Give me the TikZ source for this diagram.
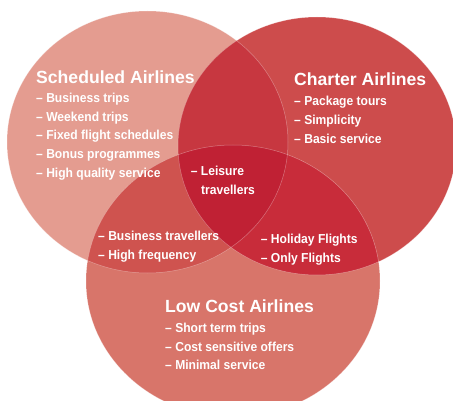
\documentclass[tikz,border=0pt]{standalone}
\usepackage{fontspec}
\setmainfont{Liberation Sans}
\newfontfamily\headfont{Liberation Sans}
\newfontfamily\itemfont{Liberation Sans}[FakeStretch=0.93]

% region colours
\definecolor{schedC}{RGB}{228,156,144}
\definecolor{charterC}{RGB}{205,76,76}
\definecolor{lowC}{RGB}{216,117,106}
\definecolor{schedcharterC}{RGB}{199,55,64}
\definecolor{schedlowC}{RGB}{207,83,79}
\definecolor{charterlowC}{RGB}{200,44,58}
\definecolor{allC}{RGB}{192,33,52}

\newcommand{\schedpath}{(147.5,142) ellipse [x radius=140.5pt, y radius=131pt]}
\newcommand{\charterpath}{(317,146) ellipse [x radius=139pt, y radius=129pt]}
\newcommand{\lowpath}{(233,281) ellipse [x radius=147pt, y radius=136pt]}

\begin{document}
\begin{tikzpicture}[x=1pt,y=-1pt,
  head/.style={anchor=base west, inner sep=0pt, text=white,
    font=\headfont\bfseries\fontsize{17.6}{20}\selectfont},
  item/.style={anchor=base west, inner sep=0pt, text=white,
    font=\itemfont\bfseries\fontsize{13}{15}\selectfont},
  rim/.style={draw=white, draw opacity=0.35, line width=0.5pt}]

\useasboundingbox (0,0) rectangle (453,401);
\clip (0,0) rectangle (453,401);
\fill[white] (0,0) rectangle (453,401);

% the three sets
\fill[schedC] \schedpath;
\fill[charterC] \charterpath;
\fill[lowC] \lowpath;

% pairwise overlaps
\begin{scope}
  \clip \schedpath;
  \fill[schedcharterC] \charterpath;
\end{scope}
\begin{scope}
  \clip \schedpath;
  \fill[schedlowC] \lowpath;
\end{scope}
\begin{scope}
  \clip \charterpath;
  \fill[charterlowC] \lowpath;
\end{scope}
% common centre
\begin{scope}
  \clip \schedpath;
  \clip \charterpath;
  \fill[allC] \lowpath;
\end{scope}

% faint outlines of the sets
\path[rim] \schedpath;
\path[rim] \charterpath;
\path[rim] \lowpath;

% Scheduled Airlines
\node[head] (schedhead) at (36,83.3) {Scheduled Airlines};
\node[item] (sched1) at (36,102.3) {– Business trips};
\node[item] (sched2) at (36,121.1) {– Weekend trips};
\node[item] (sched3) at (36,139.9) {– Fixed flight schedules};
\node[item] (sched4) at (36,158.5) {– Bonus programmes};
\node[item] (sched5) at (36,177.3) {– High quality service};

% Charter Airlines
\node[head] (charterhead) at (294,86) {Charter Airlines};
\node[item] (charter1) at (294,105.6) {– Package tours};
\node[item] (charter2) at (294,124.4) {– Simplicity};
\node[item] (charter3) at (294,143.2) {– Basic service};

% centre
\node[item] (all1) at (190.7,175.7) {– Leisure};
\node[item] (all2) at (201,194.4) {travellers};

% Scheduled and Low Cost
\node[item] (schedlow1) at (98,240.8) {– Business travellers};
\node[item] (schedlow2) at (98,259.5) {– High frequency};

% Charter and Low Cost
\node[item] (charterlow1) at (260.7,243.3) {– Holiday Flights};
\node[item] (charterlow2) at (260.7,262) {– Only Flights};

% Low Cost Airlines
\node[head] (lowhead) at (165,312.7) {Low Cost Airlines};
\node[item] (low1) at (165,332.3) {– Short term trips};
\node[item] (low2) at (165,351.1) {– Cost sensitive offers};
\node[item] (low3) at (165,369.9) {– Minimal service};
\end{tikzpicture}
\end{document}
